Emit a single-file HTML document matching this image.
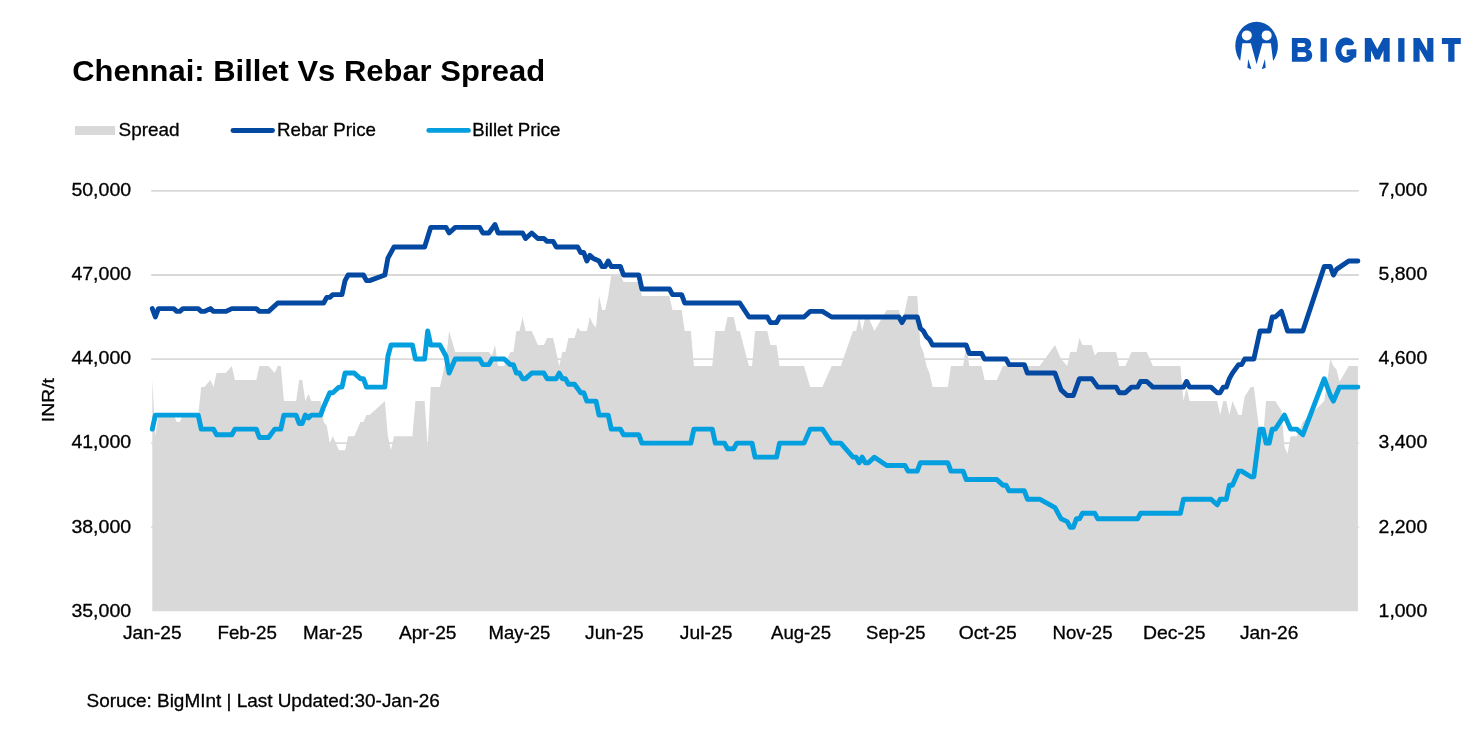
<!DOCTYPE html>
<html><head><meta charset="utf-8">
<style>
html,body{margin:0;padding:0;background:#fff;width:1484px;height:742px;overflow:hidden}
svg{display:block;will-change:transform}
text{font-family:"Liberation Sans",sans-serif;fill:#000;stroke:#000;stroke-width:0.3px}
text.b{stroke:none}
</style></head><body>
<svg width="1484" height="742" viewBox="0 0 1484 742">
<rect width="1484" height="742" fill="#fff"/>
<text x="72.20" y="81.1" class="b" font-size="29.6" font-weight="bold" textLength="473.00" lengthAdjust="spacingAndGlyphs">Chennai: Billet Vs Rebar Spread</text>
<rect x="75" y="126" width="40" height="9" fill="#d9d9d9"/>
<text x="118.60" y="135.9" font-size="18.2" textLength="61.00" lengthAdjust="spacingAndGlyphs">Spread</text>
<line x1="233" y1="130.5" x2="272.5" y2="130.5" stroke="#0449a1" stroke-width="4.9" stroke-linecap="round"/>
<text x="277.00" y="135.9" font-size="18.2" textLength="99.00" lengthAdjust="spacingAndGlyphs">Rebar Price</text>
<line x1="428.8" y1="130.4" x2="468.4" y2="130.4" stroke="#039fde" stroke-width="4.9" stroke-linecap="round"/>
<text x="472.20" y="135.9" font-size="18.2" textLength="88.20" lengthAdjust="spacingAndGlyphs">Billet Price</text>
<g stroke="#d9d9d9" stroke-width="1.8">
<line x1="151.2" y1="190.90" x2="1358.8" y2="190.90"/>
<line x1="151.2" y1="274.98" x2="1358.8" y2="274.98"/>
<line x1="151.2" y1="359.06" x2="1358.8" y2="359.06"/>
<line x1="151.2" y1="443.14" x2="1358.8" y2="443.14"/>
<line x1="151.2" y1="527.22" x2="1358.8" y2="527.22"/>
</g>
<path d="M152.3 611.3 L152.3 380.08 L155.36 436.13 L158.42 415.11 L161.48 415.11 L164.54 415.11 L167.6 415.11 L170.66 415.11 L173.72 415.11 L176.78 422.12 L179.84 422.12 L182.9 415.11 L185.96 415.11 L189.02 415.11 L192.08 415.11 L195.14 415.11 L198.2 415.11 L201.26 387.09 L204.32 387.09 L207.38 383.58 L210.44 380.08 L213.5 387.09 L216.56 373.07 L219.62 373.07 L222.68 373.07 L225.74 373.07 L228.8 369.57 L231.86 366.07 L234.92 380.08 L237.98 380.08 L241.04 380.08 L244.1 380.08 L247.16 380.08 L250.22 380.08 L253.28 380.08 L256.34 380.08 L259.4 366.07 L262.46 366.07 L265.52 366.07 L268.58 366.07 L271.64 369.57 L274.7 373.07 L277.76 366.07 L280.82 366.07 L283.88 401.1 L286.94 401.1 L290 401.1 L293.06 401.1 L296.12 401.1 L299.18 380.08 L302.24 380.08 L305.29 401.1 L308.35 394.09 L311.41 401.1 L314.47 401.1 L317.53 401.1 L320.59 401.1 L323.65 422.12 L326.71 425.62 L329.77 443.14 L332.83 436.13 L335.89 443.14 L338.95 450.15 L342.01 450.15 L345.07 450.15 L348.13 436.13 L351.19 436.13 L354.25 436.13 L357.31 429.13 L360.37 422.12 L363.43 422.12 L366.49 415.11 L369.55 415.11 L372.61 412.31 L375.67 409.51 L378.73 406.71 L381.79 403.9 L384.85 401.1 L387.91 436.13 L390.97 450.15 L394.03 436.13 L397.09 436.13 L400.15 436.13 L403.21 436.13 L406.27 436.13 L409.33 436.13 L412.39 436.13 L415.45 401.1 L418.51 401.1 L421.57 401.1 L424.63 401.1 L427.69 446.64 L430.75 387.09 L433.81 387.09 L436.87 387.09 L439.93 387.09 L442.99 373.07 L446.05 359.06 L449.11 331.03 L452.17 341.54 L455.23 352.05 L458.29 352.05 L461.35 352.05 L464.41 352.05 L467.47 352.05 L470.53 352.05 L473.59 352.05 L476.65 352.05 L479.71 352.05 L482.77 352.05 L485.83 352.05 L488.89 352.05 L491.95 355.56 L495.01 345.05 L498.07 366.07 L501.13 366.07 L504.19 366.07 L507.25 359.06 L510.31 352.05 L513.37 352.05 L516.43 331.03 L519.49 331.03 L522.55 317.02 L525.61 331.03 L528.67 331.03 L531.73 331.03 L534.79 338.04 L537.85 345.05 L540.91 345.05 L543.97 345.05 L547.03 338.04 L550.09 338.04 L553.15 338.04 L556.21 352.05 L559.27 366.07 L562.33 352.05 L565.39 352.05 L568.45 338.04 L571.51 338.04 L574.57 338.04 L577.63 327.53 L580.69 331.03 L583.75 331.03 L586.81 331.03 L589.87 317.02 L592.93 324.03 L595.99 327.53 L599.05 296 L602.11 310.01 L605.16 310.01 L608.22 296 L611.28 274.98 L614.34 274.98 L617.4 274.98 L620.46 274.98 L623.52 281.99 L626.58 281.99 L629.64 281.99 L632.7 281.99 L635.76 281.99 L638.82 281.99 L641.88 296 L644.94 296 L648 296 L651.06 296 L654.12 296 L657.18 296 L660.24 296 L663.3 296 L666.36 296 L669.42 296 L672.48 310.01 L675.54 310.01 L678.6 310.01 L681.66 310.01 L684.72 331.03 L687.78 331.03 L690.84 331.03 L693.9 366.07 L696.96 366.07 L700.02 366.07 L703.08 366.07 L706.14 366.07 L709.2 366.07 L712.26 366.07 L715.32 331.03 L718.38 331.03 L721.44 331.03 L724.5 331.03 L727.56 317.02 L730.62 317.02 L733.68 317.02 L736.74 331.03 L739.8 331.03 L742.86 342.71 L745.92 354.39 L748.98 366.07 L752.04 366.07 L755.1 331.03 L758.16 331.03 L761.22 331.03 L764.28 331.03 L767.34 331.03 L770.4 345.05 L773.46 345.05 L776.52 345.05 L779.58 366.07 L782.64 366.07 L785.7 366.07 L788.76 366.07 L791.82 366.07 L794.88 366.07 L797.94 366.07 L801 366.07 L804.06 366.07 L807.12 376.58 L810.18 387.09 L813.24 387.09 L816.3 387.09 L819.36 387.09 L822.42 387.09 L825.48 380.08 L828.54 373.07 L831.6 366.07 L834.66 366.07 L837.72 366.07 L840.78 366.07 L843.84 357.31 L846.9 348.55 L849.96 339.79 L853.02 331.03 L856.08 331.03 L859.14 317.02 L862.2 331.03 L865.26 317.02 L868.32 317.02 L871.38 324.03 L874.44 331.03 L877.5 325.78 L880.56 320.52 L883.62 315.27 L886.68 310.01 L889.74 310.01 L892.8 310.01 L895.86 310.01 L898.92 310.01 L901.98 324.03 L905.04 310.01 L908.09 296 L911.15 296 L914.21 296 L917.27 296 L920.33 345.05 L923.39 352.05 L926.45 366.07 L929.51 373.07 L932.57 387.09 L935.63 387.09 L938.69 387.09 L941.75 387.09 L944.81 387.09 L947.87 387.09 L950.93 366.07 L953.99 366.07 L957.05 366.07 L960.11 366.07 L963.17 366.07 L966.23 345.05 L969.29 366.07 L972.35 366.07 L975.41 366.07 L978.47 366.07 L981.53 366.07 L984.59 380.08 L987.65 380.08 L990.71 380.08 L993.77 380.08 L996.83 380.08 L999.89 373.07 L1002.95 366.07 L1006.01 366.07 L1009.07 366.07 L1012.13 366.07 L1015.19 366.07 L1018.25 366.07 L1021.31 366.07 L1024.37 366.07 L1027.43 366.07 L1030.49 366.07 L1033.55 366.07 L1036.61 366.07 L1039.67 366.07 L1042.73 361.86 L1045.79 357.66 L1048.85 353.45 L1051.91 349.25 L1054.97 345.05 L1058.03 352.05 L1061.09 359.06 L1064.15 362.56 L1067.21 366.07 L1070.27 352.05 L1073.33 352.05 L1076.39 352.05 L1079.45 338.04 L1082.51 345.05 L1085.57 345.05 L1088.63 345.05 L1091.69 345.05 L1094.75 355.56 L1097.81 352.05 L1100.87 352.05 L1103.93 352.05 L1106.99 352.05 L1110.05 352.05 L1113.11 352.05 L1116.17 352.05 L1119.23 366.07 L1122.29 366.07 L1125.35 366.07 L1128.41 359.06 L1131.47 352.05 L1134.53 352.05 L1137.59 352.05 L1140.65 352.05 L1143.71 352.05 L1146.77 352.05 L1149.83 359.06 L1152.89 366.07 L1155.95 366.07 L1159.01 366.07 L1162.07 366.07 L1165.13 366.07 L1168.19 366.07 L1171.25 366.07 L1174.31 366.07 L1177.37 366.07 L1180.43 366.07 L1183.49 401.1 L1186.55 387.09 L1189.61 401.1 L1192.67 401.1 L1195.73 401.1 L1198.79 401.1 L1201.85 401.1 L1204.91 401.1 L1207.96 401.1 L1211.02 401.1 L1214.08 401.1 L1217.14 401.1 L1220.2 415.11 L1223.26 401.1 L1226.32 401.1 L1229.38 415.11 L1232.44 401.1 L1235.5 408.11 L1238.56 415.11 L1241.62 415.11 L1244.68 396.43 L1247.74 391.76 L1250.8 387.09 L1253.86 387.09 L1256.92 411.61 L1259.98 436.13 L1263.04 436.13 L1266.1 401.1 L1269.16 401.1 L1272.22 401.1 L1275.28 401.1 L1278.34 405.77 L1281.4 410.44 L1284.46 446.64 L1287.52 453.65 L1290.58 436.13 L1293.64 436.13 L1296.7 436.13 L1299.76 429.13 L1302.82 422.12 L1305.88 419.12 L1308.94 416.11 L1312 413.11 L1315.06 410.11 L1318.12 407.11 L1321.18 404.1 L1324.24 401.1 L1327.3 380.08 L1330.36 359.06 L1333.42 366.07 L1336.48 369.57 L1339.54 381.83 L1342.6 376.58 L1345.66 371.32 L1348.72 366.07 L1351.78 366.07 L1354.84 366.07 L1357.9 366.07 L1357.9 611.3 Z" fill="#d9d9d9"/>
<path d="M152.3 308.61 L155.36 317.02 L158.42 308.61 L173.72 308.61 L176.78 311.41 L179.84 311.41 L182.9 308.61 L198.2 308.61 L201.26 311.41 L204.32 311.41 L210.44 308.61 L213.5 311.41 L225.74 311.41 L231.86 308.61 L256.34 308.61 L259.4 311.41 L268.58 311.41 L277.76 303.01 L323.65 303.01 L326.71 297.4 L329.77 297.4 L332.83 294.6 L342.01 294.6 L345.07 280.59 L348.13 274.98 L363.43 274.98 L366.49 280.59 L369.55 280.59 L384.85 274.98 L387.91 258.16 L394.03 246.95 L424.63 246.95 L430.75 227.33 L446.05 227.33 L449.11 232.94 L455.23 227.33 L479.71 227.33 L482.77 232.94 L488.89 232.94 L495.01 224.53 L498.07 232.94 L522.55 232.94 L525.61 238.55 L531.73 232.94 L537.85 238.55 L543.97 238.55 L547.03 241.35 L553.15 241.35 L556.21 246.95 L577.63 246.95 L580.69 252.56 L583.75 252.56 L586.81 260.97 L589.87 255.36 L592.93 258.16 L599.05 260.97 L602.11 266.57 L605.16 266.57 L608.22 260.97 L611.28 266.57 L620.46 266.57 L623.52 274.98 L638.82 274.98 L641.88 288.99 L669.42 288.99 L672.48 294.6 L681.66 294.6 L684.72 303.01 L739.8 303.01 L748.98 317.02 L767.34 317.02 L770.4 322.63 L776.52 322.63 L779.58 317.02 L804.06 317.02 L810.18 311.41 L822.42 311.41 L831.6 317.02 L898.92 317.02 L901.98 322.63 L905.04 317.02 L917.27 317.02 L920.33 328.23 L923.39 331.03 L926.45 336.64 L929.51 339.44 L932.57 345.05 L966.23 345.05 L969.29 353.45 L981.53 353.45 L984.59 359.06 L1006.01 359.06 L1009.07 364.67 L1024.37 364.67 L1027.43 373.07 L1054.97 373.07 L1058.03 381.48 L1061.09 389.89 L1067.21 395.49 L1073.33 395.49 L1079.45 378.68 L1091.69 378.68 L1097.81 387.09 L1116.17 387.09 L1119.23 392.69 L1125.35 392.69 L1131.47 387.09 L1137.59 387.09 L1140.65 381.48 L1146.77 381.48 L1152.89 387.09 L1183.49 387.09 L1186.55 381.48 L1189.61 387.09 L1211.02 387.09 L1217.14 392.69 L1220.2 392.69 L1223.26 387.09 L1226.32 387.09 L1229.38 378.68 L1232.44 373.07 L1238.56 364.67 L1241.62 364.67 L1244.68 359.06 L1253.86 359.06 L1259.98 331.03 L1269.16 331.03 L1272.22 317.02 L1275.28 317.02 L1281.4 311.41 L1287.52 331.03 L1302.82 331.03 L1324.24 266.57 L1330.36 266.57 L1333.42 274.98 L1336.48 269.37 L1348.72 260.97 L1357.9 260.97" fill="none" stroke="#0449a1" stroke-width="4.9" stroke-linejoin="round" stroke-linecap="round"/>
<path d="M152.3 429.13 L155.36 415.11 L198.2 415.11 L201.26 429.13 L213.5 429.13 L216.56 434.73 L231.86 434.73 L234.92 429.13 L256.34 429.13 L259.4 437.53 L268.58 437.53 L274.7 429.13 L280.82 429.13 L283.88 415.11 L296.12 415.11 L299.18 423.52 L302.24 423.52 L305.29 415.11 L308.35 417.92 L311.41 415.11 L320.59 415.11 L323.65 406.71 L329.77 392.69 L332.83 392.69 L338.95 387.09 L342.01 387.09 L345.07 373.07 L354.25 373.07 L360.37 378.68 L363.43 378.68 L366.49 387.09 L384.85 387.09 L387.91 356.26 L390.97 345.05 L412.39 345.05 L415.45 359.06 L424.63 359.06 L427.69 331.03 L430.75 345.05 L439.93 345.05 L446.05 356.26 L449.11 373.07 L455.23 359.06 L479.71 359.06 L482.77 364.67 L488.89 364.67 L491.95 359.06 L504.19 359.06 L510.31 364.67 L513.37 364.67 L516.43 373.07 L519.49 373.07 L522.55 378.68 L525.61 378.68 L531.73 373.07 L543.97 373.07 L547.03 378.68 L556.21 378.68 L559.27 373.07 L562.33 378.68 L565.39 378.68 L568.45 384.28 L574.57 384.28 L580.69 392.69 L583.75 392.69 L586.81 401.1 L595.99 401.1 L599.05 415.11 L608.22 415.11 L611.28 429.13 L620.46 429.13 L623.52 434.73 L638.82 434.73 L641.88 443.14 L690.84 443.14 L693.9 429.13 L712.26 429.13 L715.32 443.14 L724.5 443.14 L727.56 448.75 L733.68 448.75 L736.74 443.14 L752.04 443.14 L755.1 457.15 L776.52 457.15 L779.58 443.14 L804.06 443.14 L810.18 429.13 L822.42 429.13 L831.6 443.14 L840.78 443.14 L853.02 457.15 L856.08 457.15 L859.14 462.76 L862.2 457.15 L865.26 462.76 L868.32 462.76 L874.44 457.15 L886.68 465.56 L905.04 465.56 L908.09 471.17 L917.27 471.17 L920.33 462.76 L947.87 462.76 L950.93 471.17 L963.17 471.17 L966.23 479.57 L996.83 479.57 L1002.95 485.18 L1006.01 485.18 L1009.07 490.79 L1024.37 490.79 L1027.43 499.19 L1039.67 499.19 L1054.97 507.6 L1061.09 518.81 L1067.21 521.61 L1070.27 527.22 L1073.33 527.22 L1076.39 518.81 L1079.45 518.81 L1082.51 513.21 L1094.75 513.21 L1097.81 518.81 L1137.59 518.81 L1140.65 513.21 L1180.43 513.21 L1183.49 499.19 L1211.02 499.19 L1217.14 504.8 L1220.2 499.19 L1226.32 499.19 L1229.38 485.18 L1232.44 485.18 L1238.56 471.17 L1241.62 471.17 L1250.8 476.77 L1253.86 476.77 L1259.98 429.13 L1263.04 429.13 L1266.1 443.14 L1269.16 443.14 L1272.22 429.13 L1275.28 429.13 L1284.46 415.11 L1290.58 429.13 L1296.7 429.13 L1302.82 434.73 L1324.24 378.68 L1330.36 395.49 L1333.42 401.1 L1339.54 387.09 L1357.9 387.09" fill="none" stroke="#039fde" stroke-width="4.9" stroke-linejoin="round" stroke-linecap="round"/>
<g font-size="17.8">
<text x="131.10" y="196.25" text-anchor="end" textLength="59.70" lengthAdjust="spacingAndGlyphs">50,000</text>
<text x="1378.60" y="196.25" textLength="48.60" lengthAdjust="spacingAndGlyphs">7,000</text>
<text x="131.10" y="280.33" text-anchor="end" textLength="59.70" lengthAdjust="spacingAndGlyphs">47,000</text>
<text x="1378.60" y="280.33" textLength="48.60" lengthAdjust="spacingAndGlyphs">5,800</text>
<text x="131.10" y="364.41" text-anchor="end" textLength="59.70" lengthAdjust="spacingAndGlyphs">44,000</text>
<text x="1378.60" y="364.41" textLength="48.60" lengthAdjust="spacingAndGlyphs">4,600</text>
<text x="131.10" y="448.49" text-anchor="end" textLength="59.70" lengthAdjust="spacingAndGlyphs">41,000</text>
<text x="1378.60" y="448.49" textLength="48.60" lengthAdjust="spacingAndGlyphs">3,400</text>
<text x="131.10" y="532.57" text-anchor="end" textLength="59.70" lengthAdjust="spacingAndGlyphs">38,000</text>
<text x="1378.60" y="532.57" textLength="48.60" lengthAdjust="spacingAndGlyphs">2,200</text>
<text x="131.10" y="616.65" text-anchor="end" textLength="59.70" lengthAdjust="spacingAndGlyphs">35,000</text>
<text x="1378.60" y="616.65" textLength="48.60" lengthAdjust="spacingAndGlyphs">1,000</text>
<text x="152.30" y="638.9" text-anchor="middle" textLength="58.50" lengthAdjust="spacingAndGlyphs">Jan-25</text>
<text x="247.16" y="638.9" text-anchor="middle" textLength="59.50" lengthAdjust="spacingAndGlyphs">Feb-25</text>
<text x="332.83" y="638.9" text-anchor="middle" textLength="59.50" lengthAdjust="spacingAndGlyphs">Mar-25</text>
<text x="427.69" y="638.9" text-anchor="middle" textLength="57.50" lengthAdjust="spacingAndGlyphs">Apr-25</text>
<text x="519.49" y="638.9" text-anchor="middle" textLength="61.70" lengthAdjust="spacingAndGlyphs">May-25</text>
<text x="614.34" y="638.9" text-anchor="middle" textLength="58.50" lengthAdjust="spacingAndGlyphs">Jun-25</text>
<text x="706.14" y="638.9" text-anchor="middle" textLength="52.50" lengthAdjust="spacingAndGlyphs">Jul-25</text>
<text x="801.00" y="638.9" text-anchor="middle" textLength="60.00" lengthAdjust="spacingAndGlyphs">Aug-25</text>
<text x="895.86" y="638.9" text-anchor="middle" textLength="59.50" lengthAdjust="spacingAndGlyphs">Sep-25</text>
<text x="987.65" y="638.9" text-anchor="middle" textLength="58.00" lengthAdjust="spacingAndGlyphs">Oct-25</text>
<text x="1082.51" y="638.9" text-anchor="middle" textLength="60.00" lengthAdjust="spacingAndGlyphs">Nov-25</text>
<text x="1174.31" y="638.9" text-anchor="middle" textLength="62.50" lengthAdjust="spacingAndGlyphs">Dec-25</text>
<text x="1269.16" y="638.9" text-anchor="middle" textLength="58.50" lengthAdjust="spacingAndGlyphs">Jan-26</text>
</g>
<text transform="translate(53.8,422.2) rotate(-90)" font-size="17.4" textLength="44.20" lengthAdjust="spacingAndGlyphs">INR/t</text>
<text x="86.50" y="706.9" font-size="18.1" textLength="353.30" lengthAdjust="spacingAndGlyphs">Soruce: BigMInt | Last Updated:30-Jan-26</text>
<g fill="#0a53b4">
<ellipse cx="1256.6" cy="45.8" rx="21.3" ry="24.1"/>
<path fill="#fff" d="M1242.37 43.19 L1250.89 43.19 L1256.59 64.3 L1262.37 43.19 L1270.89 43.19 L1273.11 60.96 L1277.93 74.3 L1234.96 74.3 L1240.15 60.96 Z"/>
<circle cx="1246.81" cy="35.41" r="5" fill="#fff"/>
<circle cx="1266.67" cy="35.41" r="5" fill="#fff"/>
<path d="M1248.15 59.11 L1247.41 67.78 L1251.41 69.26 Z M1264.96 59.11 L1265.7 67.78 L1261.78 69.26 Z"/>
<path fill-rule="evenodd" d="M1291.9 38.1 H1304 C1308.9 38.1 1311.2 40.8 1311.2 44.3 C1311.2 46.9 1309.9 48.7 1307.8 49.5 C1310.6 50.2 1312.2 52.4 1312.2 55.3 C1312.2 59.4 1309.3 61.8 1304.6 61.8 H1291.9 Z M1297.6 43.1 V47.1 H1303.1 C1304.6 47.1 1305.4 46.3 1305.4 45.1 C1305.4 43.9 1304.6 43.1 1303.1 43.1 Z M1297.6 52.2 V56.9 H1303.9 C1305.6 56.9 1306.4 55.9 1306.4 54.55 C1306.4 53.2 1305.6 52.2 1303.9 52.2 Z"/>
<rect x="1320.5" y="38.1" width="6.3" height="23.7"/>
<ellipse cx="1345.8" cy="50.1" rx="10.4" ry="12.6"/>
<ellipse cx="1346.2" cy="51" rx="4.9" ry="5.9" fill="#fff"/>
<path fill="#fff" d="M1346.2 49.6 V45.2 H1352.3 L1356.8 40.5 H1358 V49.6 Z"/>
<rect x="1346.6" y="49.6" width="9.6" height="5.6"/>
<rect x="1350.6" y="49.6" width="5.6" height="8"/>
<path d="M1364.8 61.8 V38.1 H1371.2 L1377.3 49.2 L1383.3 38.1 H1389.7 V61.8 H1383.5 V50.5 L1379.4 59.6 H1375.2 L1371 50.5 V61.8 Z"/>
<rect x="1398.2" y="38.1" width="6.3" height="23.7"/>
<path d="M1413.4 61.8 V38.1 H1419.8 L1427.2 50.9 V38.1 H1433.4 V61.8 H1427 L1419.6 49.1 V61.8 Z"/>
<path d="M1441.9 38.1 H1460.8 V43.9 H1454.5 V61.8 H1448.2 V43.9 H1441.9 Z"/>
</g>
</svg>
</body></html>
